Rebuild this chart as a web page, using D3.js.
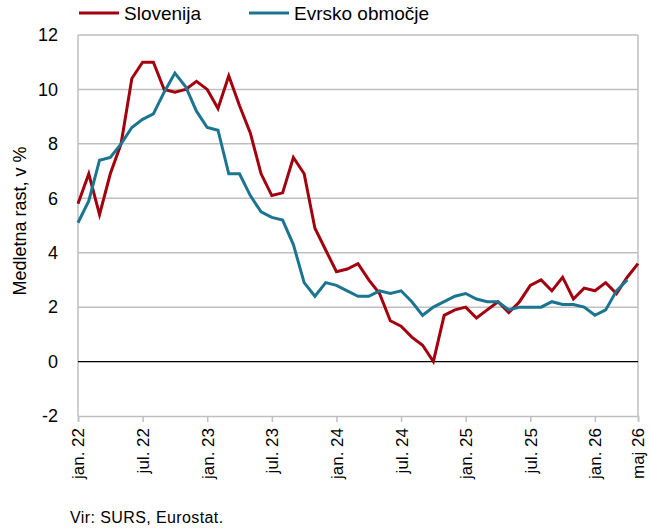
<!DOCTYPE html>
<html>
<head>
<meta charset="utf-8">
<script src="https://cdn.jsdelivr.net/npm/d3@7"></script>
<style>
  body { margin: 0; background: #fff; }
  text { font-family: "Liberation Sans", Arial, sans-serif; fill: #000; }
</style>
</head>
<body>
<div id="chart"></div>
<script>
// mesecni podatki jan. 22 - maj 26
var monthNames = ['jan.', 'feb.', 'mar.', 'apr.', 'maj', 'jun.', 'jul.', 'avg.', 'sep.', 'okt.', 'nov.', 'dec.'];
var months = [];
for (var y = 22; y <= 26; y++) {
  for (var m = 0; m < 12; m++) {
    if (y === 26 && m > 4) break;
    months.push(monthNames[m] + ' ' + y);
  }
}

var slovenija = [5.8, 6.9, 5.4, 6.9, 8.0, 10.4, 11.0, 11.0, 10.0, 9.9, 10.0, 10.3,
  10.0, 9.3, 10.5, 9.4, 8.4, 6.9, 6.1, 6.2, 7.5, 6.9, 4.9, 4.1,
  3.3, 3.4, 3.6, 3.0, 2.5, 1.5, 1.3, 0.9, 0.6, 0.0, 1.7, 1.9,
  2.0, 1.6, 1.9, 2.2, 1.8, 2.2, 2.8, 3.0, 2.6, 3.1, 2.3, 2.7,
  2.6, 2.9, 2.5, 3.1, 3.6];

var evro = [5.1, 5.9, 7.4, 7.5, 8.0, 8.6, 8.9, 9.1, 9.9, 10.6, 10.1, 9.2,
  8.6, 8.5, 6.9, 6.9, 6.1, 5.5, 5.3, 5.2, 4.3, 2.9, 2.4, 2.9,
  2.8, 2.6, 2.4, 2.4, 2.6, 2.5, 2.6, 2.2, 1.7, 2.0, 2.2, 2.4,
  2.5, 2.3, 2.2, 2.2, 1.9, 2.0, 2.0, 2.0, 2.2, 2.1, 2.1, 2.0,
  1.7, 1.9, 2.6, 3.0, null];

var yTicks = [-2, 0, 2, 4, 6, 8, 10, 12];
var xTickLabels = ['jan. 22', 'jul. 22', 'jan. 23', 'jul. 23', 'jan. 24', 'jul. 24', 'jan. 25', 'jul. 25', 'jan. 26', 'maj 26'];

var series = [
  { name: 'Slovenija', values: slovenija, color: '#a3000f' },
  { name: 'Evrsko območje', values: evro, color: '#1b7590' }
];

var width = 651, height = 532;
var margin = { top: 35, right: 13, bottom: 116, left: 78 };
var innerW = width - margin.left - margin.right,
    innerH = height - margin.top - margin.bottom;

var svg = d3.select('#chart').append('svg')
  .attr('width', width)
  .attr('height', height);

var g = svg.append('g')
  .attr('transform', 'translate(' + margin.left + ',' + margin.top + ')');

var x = d3.scalePoint()
  .domain(months)
  .range([0, innerW]);

var yScale = d3.scaleLinear()
  .domain([-2, 12])
  .range([innerH, 0]);

// mreza
g.selectAll('.grid').data(yTicks.filter(function(d) { return d !== 0 && d !== -2; }))
  .enter().append('line')
    .attr('x1', 0).attr('x2', innerW)
    .attr('y1', function(d) { return yScale(d); })
    .attr('y2', function(d) { return yScale(d); })
    .style('stroke', '#bfbfbf')
    .style('stroke-width', 1.5);

// okvir: levo, desno
g.append('line').attr('x1', 0).attr('x2', 0).attr('y1', 0).attr('y2', innerH)
  .style('stroke', '#bfbfbf').style('stroke-width', 1.5);
g.append('line').attr('x1', innerW).attr('x2', innerW).attr('y1', 0).attr('y2', innerH)
  .style('stroke', '#bfbfbf').style('stroke-width', 1.5);

// x os spodaj
var xAxis = d3.axisBottom(x)
  .tickValues(xTickLabels)
  .tickSize(6)
  .tickPadding(6);

var xg = g.append('g')
  .attr('transform', 'translate(0,' + innerH + ')')
  .call(xAxis);
xg.select('.domain').style('stroke', '#bfbfbf').style('stroke-width', 1.5);
xg.selectAll('.tick line').style('stroke', '#bfbfbf').style('stroke-width', 1.5);
xg.selectAll('.tick text')
  .style('font-size', '17px')
  .style('font-family', '"Liberation Sans", Arial, sans-serif')
  .attr('text-anchor', 'end')
  .attr('dy', '0.35em')
  .attr('transform', 'translate(0,6) rotate(-90)')
  .attr('x', -6)
  .attr('y', 0);

// y os
var yAxis = d3.axisLeft(yScale)
  .tickValues(yTicks)
  .tickFormat(function(d) { return String(d); })
  .tickSize(0)
  .tickPadding(20);
var yg = g.append('g').call(yAxis);
yg.select('.domain').remove();
yg.selectAll('.tick text')
  .style('font-size', '18px')
  .style('font-family', '"Liberation Sans", Arial, sans-serif');

// nicla
g.append('line')
  .attr('x1', 0).attr('x2', innerW)
  .attr('y1', yScale(0)).attr('y2', yScale(0))
  .style('stroke', '#000')
  .style('stroke-width', 1.2);

var line = d3.line()
  .defined(function(d) { return d !== null; })
  .x(function(d, i) { return x(months[i]); })
  .y(function(d) { return yScale(d); });

g.selectAll('.series').data(series)
  .enter().append('path')
    .attr('d', function(d) { return line(d.values); })
    .style('fill', 'none')
    .style('stroke', function(d) { return d.color; })
    .style('stroke-width', 3)
    .style('stroke-linejoin', 'miter');

// oznaka y osi
svg.append('text')
  .attr('transform', 'translate(26,221) rotate(-90)')
  .attr('text-anchor', 'middle')
  .style('font-size', '18px')
  .text('Medletna rast, v %');

// legenda
var legX = [79, 249];
var leg = svg.selectAll('.leg').data(series)
  .enter().append('g')
    .attr('transform', function(d, i) { return 'translate(' + legX[i] + ',13)'; });
leg.append('line')
  .attr('x1', 0).attr('x2', 40)
  .style('stroke', function(d) { return d.color; })
  .style('stroke-width', 3);
leg.append('text')
  .attr('x', 45)
  .attr('dy', '0.35em')
  .style('font-size', '19px')
  .text(function(d) { return d.name; });

// vir
svg.append('text')
  .attr('x', 70)
  .attr('y', 523)
  .style('font-size', '16px')
  .style('letter-spacing', '0.4px')
  .text('Vir: SURS, Eurostat.');
</script>
</body>
</html>
